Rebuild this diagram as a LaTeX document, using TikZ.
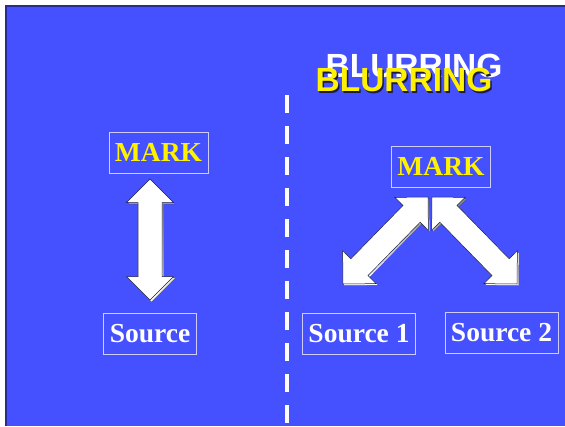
\documentclass[tikz,border=0pt]{standalone}
\usepackage{fontspec}
\setmainfont{Liberation Serif}
\newfontfamily\headfont{Liberation Sans}
\usetikzlibrary{calc}

\definecolor{slideblue}{RGB}{69,80,255}
\definecolor{slideedge}{RGB}{40,44,140}
\definecolor{boxline}{RGB}{205,205,255}
\definecolor{shade}{RGB}{28,28,70}

% outline of a double block arrow between two points
\newcommand{\arrowpath}[2]{(#1)
  -- ($(#1)!23.5pt!(#2)!23.5pt!90:(#2)$) -- ($(#1)!23.5pt!(#2)!12pt!90:(#2)$)
  -- ($(#2)!23.5pt!(#1)!12pt!-90:(#1)$) -- ($(#2)!23.5pt!(#1)!23.5pt!-90:(#1)$)
  -- (#2)
  -- ($(#2)!23.5pt!(#1)!23.5pt!90:(#1)$) -- ($(#2)!23.5pt!(#1)!12pt!90:(#1)$)
  -- ($(#1)!23.5pt!(#2)!12pt!-90:(#2)$) -- ($(#1)!23.5pt!(#2)!23.5pt!-90:(#2)$)
  -- cycle}
\newcommand{\bigarrow}[2]{%
  \fill[shade, transform canvas={shift={(1.5pt,-1.5pt)}}] \arrowpath{#1}{#2};
  \draw[fill=white, draw=shade, line width=0.5pt] \arrowpath{#1}{#2};}

\begin{document}
\begin{tikzpicture}[x=1pt, y=-1pt,
    lbl/.style={draw=boxline, line width=0.8pt, inner xsep=6pt, inner ysep=0pt,
      minimum height=41pt, font=\bfseries\fontsize{27.5}{30}\selectfont},
    marklbl/.style={lbl, text=yellow},
    srclbl/.style={lbl, text=white},
    headtxt/.style={font=\headfont\bfseries\fontsize{33.5}{36}\selectfont, inner sep=0pt}]

\useasboundingbox (0,0) rectangle (565,426);
\fill[white] (0,0) rectangle (565,426);
\fill[slideblue] (6,6) rectangle (565,426);
\draw[slideedge, line width=2pt] (6,426) -- (6,6) -- (565,6);

% title
\node[headtxt, text=white] (oldtitle) at (414,66) {BLURRING};
\node[headtxt, text=shade] (titleshadow) at (405.5,81.5) {BLURRING};
\node[headtxt, text=yellow] (title) at (404,80) {BLURRING};

% divider
\coordinate (divtop) at (287,95);
\coordinate (divbot) at (287,426);
\draw[white, line width=4pt, dash pattern=on 18pt off 13pt] (divtop) -- (divbot);

% left: one source
\node[marklbl] (mark) at (158.5,152.5) {MARK};
\node[srclbl] (src) at (150,333.5) {Source};

% right: two sources
\node[marklbl] (mark2) at (441,166.5) {MARK};
\node[srclbl] (src1) at (359,333.5) {Source 1};
\node[srclbl] (src2) at (501.5,333) {Source 2};

\coordinate (lt) at (150,179);
\coordinate (lb) at (150,300);
\coordinate (m1) at (428,197);
\coordinate (s1) at (343,284);
\coordinate (m2) at (432,197);
\coordinate (s2) at (517,284);

\bigarrow{lt}{lb}
\bigarrow{m1}{s1}
\bigarrow{m2}{s2}

\end{tikzpicture}
\end{document}
